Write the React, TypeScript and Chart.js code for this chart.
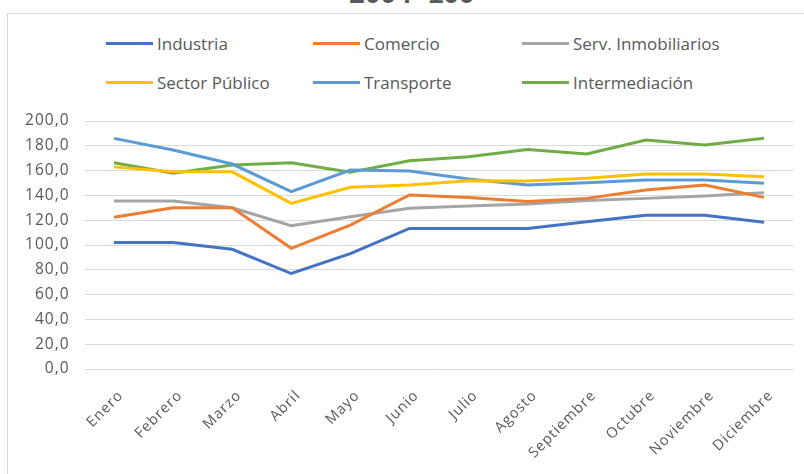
import React, { useEffect, useRef } from "react";
import { Chart, registerables } from "chart.js";

Chart.register(...registerables);

const titleText = "2004=100";
const months = ["Enero", "Febrero", "Marzo", "Abril", "Mayo", "Junio", "Julio", "Agosto", "Septiembre", "Octubre", "Noviembre", "Diciembre"];
const seriesNames = ["Industria", "Comercio", "Serv. Inmobiliarios", "Sector Público", "Transporte", "Intermediación"];
const seriesColors = ["#4472C4", "#ED7D31", "#A5A5A5", "#FFC000", "#5B9BD5", "#70AD47"];
const industria = [102, 102, 96.5, 77, 93, 113.4, 113.4, 113.4, 118.8, 124, 124, 118.3];
const comercio = [122.3, 130, 130, 97.3, 116, 140.3, 138.4, 135, 137.6, 144.4, 148.4, 138.4];
const servInmobiliarios = [135.5, 135.5, 130, 115.6, 122.8, 129.6, 131.5, 133, 135.8, 137.6, 139.5, 142.2];
const sectorPublico = [163, 159, 159, 133.6, 146.5, 148.4, 151.9, 151.6, 153.8, 157.3, 157.3, 155.1];
const transporte = [186, 176.6, 165.3, 143, 160.5, 159.7, 153.2, 148.4, 150.3, 152.4, 152.4, 149.7];
const intermediacion = [166.4, 157.8, 164.5, 166.4, 158.6, 168, 171.2, 177, 173.4, 184.7, 180.6, 186];
const yMin = 0;
const yMax = 200;
const yStep = 20;

const allSeries = [industria, comercio, servInmobiliarios, sectorPublico, transporte, intermediacion];

const FONT = "'Open Sans', sans-serif";
const TEXT_COLOR = "#595959";

const spacingPlugin = {
  id: "letterSpacing",
  beforeUpdate(chart: any) { chart.ctx.letterSpacing = "1px"; },
  beforeDraw(chart: any) { chart.ctx.letterSpacing = "1px"; },
};

export default function App() {
  const ref = useRef<HTMLCanvasElement | null>(null);

  useEffect(() => {
    if (!ref.current) return;
    const chart = new Chart(ref.current, {
      type: "line",
      plugins: [spacingPlugin],
      data: {
        labels: months,
        datasets: seriesNames.map((name, i) => ({
          label: name,
          data: allSeries[i],
          borderColor: seriesColors[i],
          backgroundColor: seriesColors[i],
          borderWidth: 3,
          pointRadius: 0,
          tension: 0,
          fill: false,
        })),
      },
      options: {
        animation: false,
        responsive: false,
        maintainAspectRatio: false,
        layout: { padding: { top: 121, right: 10.5, bottom: 0, left: 0 } },
        plugins: {
          legend: { display: false },
          title: { display: false },
          tooltip: { enabled: false },
        },
        scales: {
          x: {
            offset: true,
            grid: { display: false },
            border: { display: false },
            ticks: {
              autoSkip: false,
              minRotation: 45,
              maxRotation: 45,
              color: TEXT_COLOR,
              font: { family: FONT, size: 14.5 },
              padding: 10,
              labelOffset: 7,
            },
            afterFit: (s: any) => { s.height = 105; },
          },
          y: {
            min: yMin,
            max: yMax,
            grid: { color: "#D9D9D9", lineWidth: 1, drawTicks: false },
            border: { display: false },
            ticks: {
              stepSize: yStep,
              color: TEXT_COLOR,
              font: { family: FONT, size: 15.5 },
              padding: 15,
              callback: (v: any) => Number(v).toFixed(1).replace(".", ","),
            },
            afterFit: (s: any) => { s.width = 84.5; },
          },
        },
      },
    });
    return () => chart.destroy();
  }, []);

  const legendCols = [106, 313, 522];
  const legendRows = [43, 82];

  return (
    <div style={{ position: "fixed", left: 0, top: 0, width: 804, height: 474, overflow: "hidden", background: "#fff" }}>
      <div style={{ position: "absolute", left: 7, top: 13, width: 900, height: 600, border: "1px solid #D9D9D9", boxSizing: "border-box" }} />
      <div style={{ position: "absolute", left: 10, width: 804, top: -20, textAlign: "center", fontFamily: "'Liberation Sans', Arial, sans-serif", fontWeight: "bold", fontSize: 28, color: "#595959", lineHeight: "28px" }}>{titleText}</div>
      {seriesNames.map((name, i) => (
        <div key={name} style={{ position: "absolute", left: legendCols[i % 3], top: legendRows[Math.floor(i / 3)] - 12, height: 24, display: "flex", alignItems: "center", fontFamily: FONT, fontSize: 17, color: TEXT_COLOR, whiteSpace: "nowrap" }}>
          <span style={{ display: "inline-block", width: 47, height: 3, background: seriesColors[i], marginRight: 4 }} />
          <span>{name}</span>
        </div>
      ))}
      <canvas ref={ref} width={804} height={474} style={{ position: "absolute", left: 0, top: 0, width: 804, height: 474 }} />
    </div>
  );
}
